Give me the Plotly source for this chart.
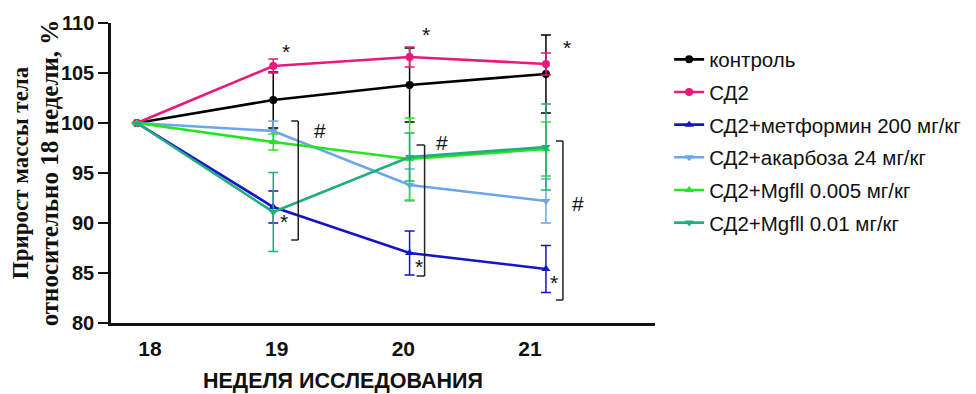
import plotly.graph_objects as go

weeks = [18, 19, 20, 21]
week_labels = ["18", "19", "20", "21"]

names = ["контроль", "СД2", "СД2+метформин 200 мг/кг", "СД2+акарбоза 24 мг/кг",
         "СД2+Mgfll 0.005 мг/кг", "СД2+Mgfll 0.01 мг/кг"]

control = [100, 102.3, 103.8, 104.9]
control_err = [0, 2.8, 3.7, 3.9]
sd2 = [100, 105.7, 106.6, 105.9]
sd2_err = [0, 0.7, 1.0, 1.1]
metformin = [100, 91.6, 87.0, 85.4]
metformin_err = [0, 1.6, 2.2, 2.35]
acarbose = [100, 99.2, 93.8, 92.2]
acarbose_err = [0, 1.0, 1.6, 2.2]
mgfll_005 = [100, 98.1, 96.4, 97.4]
mgfll_005_err = [0, 0.8, 4.1, 2.7]
mgfll_01 = [100, 91.1, 96.6, 97.6]
mgfll_01_err = [0, 3.95, 2.4, 4.3]

series = [control, sd2, metformin, acarbose, mgfll_005, mgfll_01]
errors = [control_err, sd2_err, metformin_err, acarbose_err, mgfll_005_err, mgfll_01_err]
colors = ["#000000", "#e8197d", "#1414c8", "#6aa6e8", "#22e622", "#1fae7c"]
symbols = ["circle", "circle", "triangle-up", "triangle-down", "triangle-up", "triangle-down"]

# significance marks: week, y, pixel shift, text
marks_x = [19, 19, 20, 20, 21, 21, 19, 20, 21]
marks_y = [107.2, 90.2, 108.9, 85.7, 107.6, 84.1, 99.3, 98.1, 92.0]
marks_shift = [13, 11, 16, 9, 21, 8, 47, 32, 32]
marks_text = ["*", "*", "*", "*", "*", "*", "#", "#", "#"]

# brackets: week, top, bottom, pixel offset of vertical line, pixel offset of ticks
br_week = [19, 20, 21]
br_top = [100.2, 97.8, 98.2]
br_bot = [88.3, 84.7, 82.3]
br_vx = [25, 15, 17]
br_tx = [18, 7, 10]

FONT = "Liberation Sans"

fig = go.Figure()
for i, (nm, ys, es, c, s) in enumerate(zip(names, series, errors, colors, symbols)):
    fig.add_trace(go.Scatter(
        x=weeks, y=ys, name=nm, mode="lines+markers",
        line=dict(color=c, width=2.6),
        marker=dict(color=c, symbol=s, size=8),
        error_y=dict(type="data", array=es, visible=True, color=c, thickness=1.5, width=5),
        legendgroup=f"g{i}",
    ))

# invisible trace carrying the tick-label axis
fig.add_trace(go.Scatter(x=weeks, y=[None] * 4, xaxis="x2", showlegend=False, hoverinfo="skip"))

for wx, wy, sh, t in zip(marks_x, marks_y, marks_shift, marks_text):
    fig.add_annotation(x=wx, y=wy, text=t, xshift=sh, showarrow=False,
                       font=dict(family=FONT, size=21, color="#111"))

for w, t, b, vx, tx in zip(br_week, br_top, br_bot, br_vx, br_tx):
    ln = dict(color="#222", width=1.5)
    fig.add_shape(type="line", xref="x", yref="y", xsizemode="pixel", xanchor=w,
                  x0=vx, x1=vx, y0=t, y1=b, line=ln)
    fig.add_shape(type="line", xref="x", yref="y", xsizemode="pixel", xanchor=w,
                  x0=tx, x1=vx, y0=t, y1=t, line=ln)
    fig.add_shape(type="line", xref="x", yref="y", xsizemode="pixel", xanchor=w,
                  x0=tx, x1=vx, y0=b, y1=b, line=ln)

fig.add_annotation(xref="paper", yref="paper", x=(343 - 111) / 544, y=-58 / 300,
                   text="<b>НЕДЕЛЯ ИССЛЕДОВАНИЯ</b>", showarrow=False,
                   font=dict(family=FONT, size=21.5, color="#111"), yanchor="middle")

fig.update_layout(
    width=976, height=394,
    margin=dict(l=103, r=329, t=15, b=79, pad=0, autoexpand=False),
    paper_bgcolor="white", plot_bgcolor="white",
    showlegend=True,
    legend=dict(x=1.026, y=0.945, xanchor="left", yanchor="top",
                font=dict(family=FONT, size=20.5, color="#111"),
                tracegroupgap=3, bgcolor="rgba(0,0,0,0)"),
    xaxis=dict(range=[17.81, 21.8], showticklabels=False, ticks="", showgrid=False,
               zeroline=False, showline=True, linecolor="#111", linewidth=2.5,
               automargin=False),
    xaxis2=dict(range=[17.692, 21.987], overlaying="x", side="bottom",
                tickvals=weeks, ticktext=week_labels, ticks="outside", ticklen=7,
                tickcolor="rgba(0,0,0,0)", showgrid=False, zeroline=False, showline=False,
                automargin=False,
                tickfont=dict(family=FONT, size=21, color="#111", weight="bold")),
    yaxis=dict(range=[80, 110], tickvals=[80, 85, 90, 95, 100, 105, 110],
               ticks="outside", ticklen=10, tickwidth=2, tickcolor="#111",
               showgrid=False, zeroline=False, showline=True, linecolor="#111", linewidth=2.5,
               automargin=False,
               tickfont=dict(family=FONT, size=20, color="#111", weight="bold"),
               title=dict(text="Прирост массы тела<br><span style=\"font-size:25px\">относительно 18 недели, %</span>",
                          font=dict(family="Liberation Serif", size=23, color="#111", weight="bold"),
                          standoff=1)),
)

fig.write_html("out.html")
